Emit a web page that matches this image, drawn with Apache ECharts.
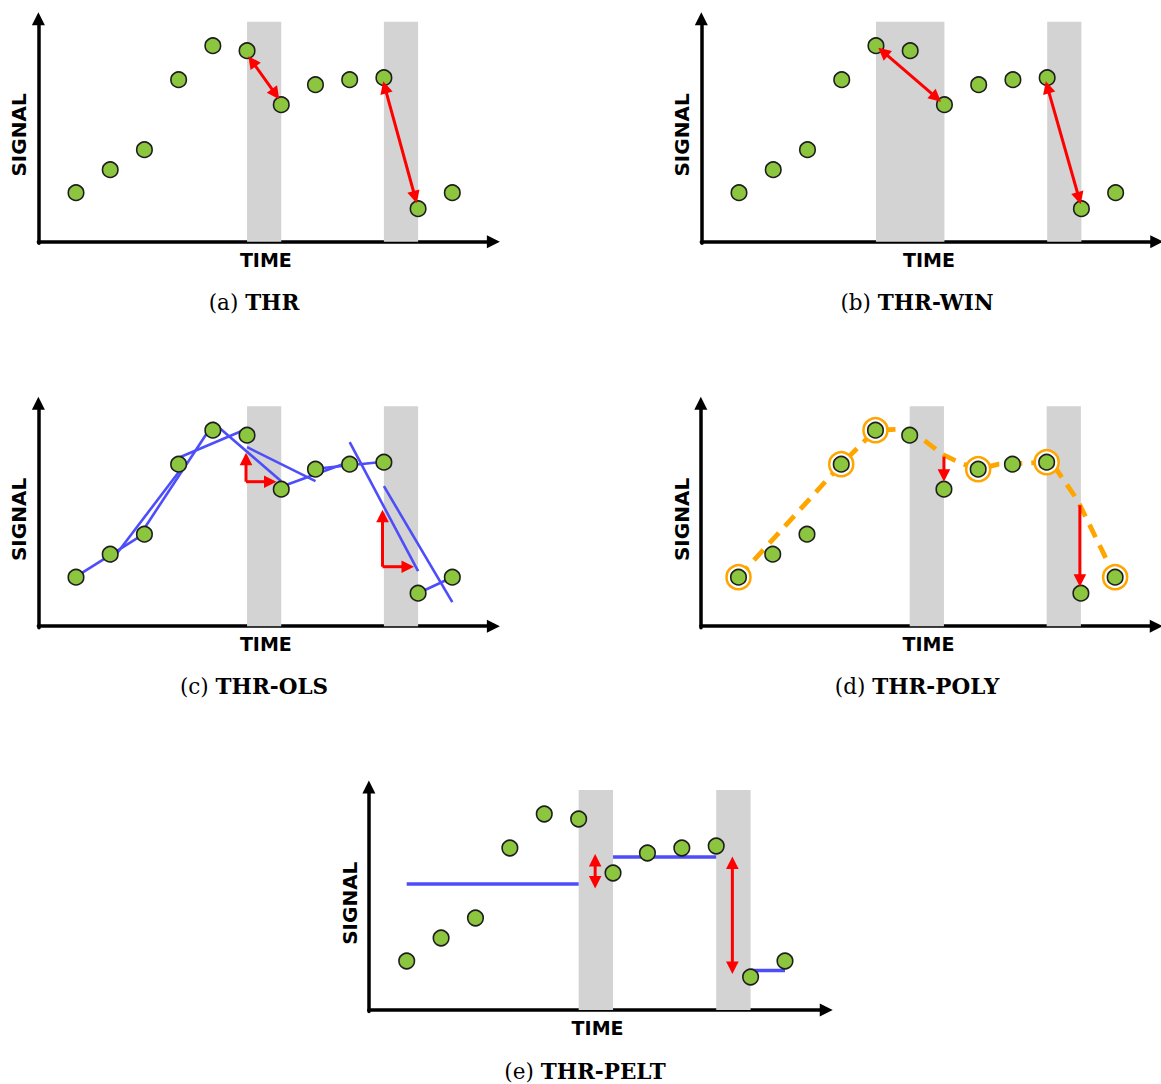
<!DOCTYPE html>
<html><head><meta charset="utf-8">
<script src="https://cdn.jsdelivr.net/npm/echarts@6/dist/echarts.min.js"></script>
<style>html,body{margin:0;padding:0;background:#fff}#c{width:1161px;height:1084px}</style>
</head><body><div id="c"></div>
<script>
// ---------- data ----------
const time = [1,2,3,4,5,6,7,8,9,10,11,12];
const signal = [49,72,92,162,196,191,137,157,162,164,33,49];
const panelLetters = ['a','b','c','d','e'];
const panelNames = ['THR','THR-WIN','THR-OLS','THR-POLY','THR-PELT'];
const bandsA = [[6,7],[10,11]];
const bandsB = [[5,7],[10,11]];
const bandsC = [[6,7],[10,11]];
const bandsD = [[6,7],[10,11]];
const bandsE = [[6,7],[10,11]];
const bandTop = 220;
// red arrows: [x1, y1, x2, y2, headAtBothEnds]
const arrowsA = [[6.04,185.5,6.94,142.5,1],[9.98,160.5,10.96,38.5,1]];
const arrowsB = [[5.07,194,6.9,140,1],[9.96,160.5,10.98,37.5,1]];
const arrowsC = [[5.97,144.5,5.97,173.5,0],[5.97,144.5,6.86,144.5,0],[9.96,59.5,9.96,116.5,0],[9.96,59.5,10.88,59.5,0]];
const arrowsD = [[7,169.5,7,144.5,0],[10.97,121,10.97,39.5,0]];
const arrowsE = [[6.48,156,6.48,121.5,1],[10.47,153.5,10.47,36,1]];
// OLS fit lines (panel c): [x1, y1, x2, y2]
const olsFits = [[1,49.5,3,92.5],[2,64,4,154],[3,98,5,202],[4,168.5,6,197.5],[5,204,7,145],[6,179,8,145],[7,139.5,9,164.5],[8,157.5,10,164.5],[9,184,11,55],[10,140,12,24],[11,33,12,49]];
// polynomial curve (panel d)
const polyCurve = [[1,49],[4,162],[5,196],[5.8,197],[6.3,189],[7,171],[7.5,163],[8,157],[8.6,162],[9.4,163],[10,164],[10.3,156],[10.9,126],[11.8,63],[12,49]];
const polyKnots = [1,4,5,8,10,12];
// PELT segment means (panel e): [xStart, xEnd, level]
const peltSegments = [[1,6,126],[7,10,153],[11,12,39.5]];

// ---------- styles / layout ----------
const GREEN = '#8cc63f', RED = '#ff0000', BLUE = '#4d4dfa', ORANGE = '#ffa500', GREY = '#d3d3d3';
const XMIN = -0.1, XMAX = 13.2, YMIN = -1.5, YMAX = 223;
const layout = [
  {px1:76,    k:34.21, axisY:241.7, capX:254, capY:302.5},
  {px1:739,   k:34.24, axisY:241.7, capX:917, capY:302.5},
  {px1:76,    k:34.21, axisY:626.2, capX:254, capY:686},
  {px1:738.5, k:34.24, axisY:626.2, capX:917, capY:686},
  {px1:406.7, k:34.39, axisY:1010,  capX:585, capY:1071}
];
const bandsAll = [bandsA,bandsB,bandsC,bandsD,bandsE];
const arrowsAll = [arrowsA,arrowsB,arrowsC,arrowsD,arrowsE];

const chart = echarts.init(document.getElementById('c'), null, {renderer:'svg'});

const grids = [], xAxes = [], yAxes = [], titles = [], series = [];
const axisLineStyle = {color:'#000', width:3.5};
const nameStyle = {fontFamily:'DejaVu Sans', fontWeight:'bold', fontSize:19, color:'#000'};

function bandItem(params, api){
  const p1 = api.coord([api.value(0), api.value(2)]);
  const p2 = api.coord([api.value(1), 0]);
  return {type:'rect', shape:{x:p1[0], y:p1[1], width:p2[0]-p1[0], height:p2[1]-p1[1]}, style:{fill:GREY}};
}
function segItem(color, width){
  return function(params, api){
    const a = api.coord([api.value(0), api.value(1)]);
    const b = api.coord([api.value(2), api.value(3)]);
    return {type:'line', shape:{x1:a[0],y1:a[1],x2:b[0],y2:b[1]}, style:{stroke:color, lineWidth:width, lineCap:'butt'}};
  };
}
function arrowItem(params, api){
  const a = api.coord([api.value(0), api.value(1)]);
  const b = api.coord([api.value(2), api.value(3)]);
  const both = api.value(4) === 1;
  const dx = b[0]-a[0], dy = b[1]-a[1];
  const L = Math.hypot(dx,dy), ux = dx/L, uy = dy/L;
  const HL = 12.5, HW = 6.3;
  const s = both ? [a[0]+ux*HL*0.7, a[1]+uy*HL*0.7] : a;
  const e = [b[0]-ux*HL*0.7, b[1]-uy*HL*0.7];
  const head = (t, vx, vy) => ({type:'polygon', shape:{points:[
      [t[0], t[1]],
      [t[0]-vx*HL - vy*HW, t[1]-vy*HL + vx*HW],
      [t[0]-vx*HL + vy*HW, t[1]-vy*HL - vx*HW]]}, style:{fill:RED}});
  const children = [{type:'line', shape:{x1:s[0],y1:s[1],x2:e[0],y2:e[1]}, style:{stroke:RED, lineWidth:3}}];
  children.push(head(b, ux, uy));
  if (both) children.push(head(a, -ux, -uy));
  return {type:'group', children};
}

layout.forEach((L, i) => {
  grids.push({left: L.px1 - (1 - XMIN) * L.k, width: (XMAX - XMIN) * L.k,
              top: L.axisY - YMAX, height: YMAX - YMIN, containLabel:false});
  xAxes.push({gridIndex:i, type:'value', min:XMIN, max:XMAX,
    axisLine:{show:true, onZero:true, symbol:['none','triangle'], symbolSize:[13,13], lineStyle:axisLineStyle},
    axisTick:{show:false}, axisLabel:{show:false}, splitLine:{show:false},
    name:'TIME', nameLocation:'middle', nameGap:7, nameTextStyle:nameStyle});
  yAxes.push({gridIndex:i, type:'value', min:YMIN, max:YMAX,
    axisLine:{show:true, onZero:false, symbol:['none','triangle'], symbolSize:[13,13], lineStyle:axisLineStyle},
    axisTick:{show:false}, axisLabel:{show:false}, splitLine:{show:false},
    name:'SIGNAL', nameLocation:'middle', nameRotate:90, nameGap:9,
    nameTextStyle:Object.assign({}, nameStyle, {fontSize:20, padding:[0,8,0,0]})});
  titles.push({text:'{n|(' + panelLetters[i] + ') }{b|' + panelNames[i] + '}',
    left: L.capX, top: L.capY - 13, textAlign:'center', padding:0,
    textStyle:{fontWeight:'normal', rich:{
      n:{fontFamily:'DejaVu Serif', fontSize:21.5, fontWeight:'normal', color:'#000', lineHeight:26},
      b:{fontFamily:'DejaVu Serif', fontSize:21.5, fontWeight:'bold', color:'#000', lineHeight:26}}}});
  series.push({type:'custom', xAxisIndex:i, yAxisIndex:i, z:1, renderItem:bandItem,
    data: bandsAll[i].map(b => [b[0], b[1], bandTop])});
  series.push({type:'scatter', xAxisIndex:i, yAxisIndex:i, z:5, symbol:'circle', symbolSize:15.5,
    itemStyle:{color:GREEN, borderColor:'#1e1e1e', borderWidth:1.6, opacity:1},
    data: time.map((t, j) => [t, signal[j]])});
  series.push({type:'custom', xAxisIndex:i, yAxisIndex:i, z:6, renderItem:arrowItem,
    data: arrowsAll[i]});
});

// panel c: OLS fits
series.push({type:'custom', xAxisIndex:2, yAxisIndex:2, z:3, renderItem:segItem(BLUE, 2.6), data: olsFits});
// panel d: polynomial curve + knots
series.push({type:'line', xAxisIndex:3, yAxisIndex:3, z:3, showSymbol:false, smooth:false,
  lineStyle:{color:ORANGE, width:4.8, type:[14,9]}, data: polyCurve});
series.push({type:'scatter', xAxisIndex:3, yAxisIndex:3, z:4, symbol:'circle', symbolSize:24,
  itemStyle:{color:'#fff', borderColor:ORANGE, borderWidth:2.5, opacity:1},
  data: polyKnots.map(t => [t, signal[t-1]])});
// panel e: PELT segments
series.push({type:'custom', xAxisIndex:4, yAxisIndex:4, z:3, renderItem:segItem(BLUE, 3.3),
  data: peltSegments.map(s => [s[0], s[2], s[1], s[2]])});

chart.setOption({
  animation:false, backgroundColor:'#fff',
  title:titles, grid:grids, xAxis:xAxes, yAxis:yAxes, series:series
});
</script></body></html>
